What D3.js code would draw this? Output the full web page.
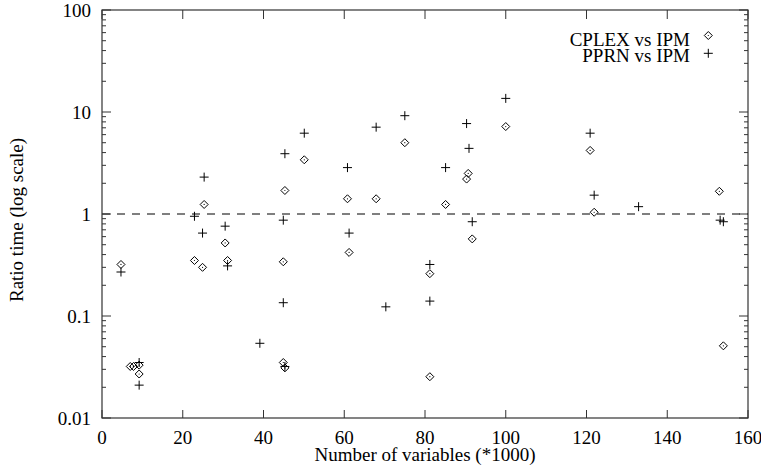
<!DOCTYPE html>
<html><head><meta charset="utf-8">
<script src="https://cdn.jsdelivr.net/npm/d3@7"></script>
<style>
html,body{margin:0;padding:0;background:#fff;}
text{font-family:"Liberation Serif","Times New Roman",serif;font-size:19px;fill:#000;}
</style></head>
<body>
<svg id="c" width="761" height="469"></svg>
<script>
const xTicks = [0,20,40,60,80,100,120,140,160];
const yTicks = [0.01,0.1,1,10,100];
const yTickLabels = ["0.01","0.1","1","10","100"];
const seriesNames = ["CPLEX vs IPM","PPRN vs IPM"];

const cplexX = [4.7,7.0,7.8,9.2,9.2,22.9,24.9,25.3,30.5,31.1,44.9,44.9,45.3,45.3,50.1,60.8,61.2,67.9,75.0,81.2,81.2,85.1,90.3,90.7,91.7,100.0,120.9,121.9,152.9,153.9];
const cplexY = [0.32,0.032,0.032,0.033,0.027,0.35,0.30,1.24,0.52,0.35,0.34,0.035,0.031,1.7,3.4,1.41,0.42,1.41,5.0,0.26,0.0254,1.24,2.2,2.5,0.57,7.2,4.2,1.04,1.67,0.051];

const pprnX = [4.7,9.2,9.2,22.9,24.9,25.3,30.5,31.1,39.1,44.9,44.9,45.3,45.3,50.1,60.8,61.2,67.9,70.3,75.0,81.2,81.2,85.1,90.3,90.9,91.7,100.0,120.9,121.9,132.9,153.1,153.9];
const pprnY = [0.27,0.035,0.021,0.95,0.65,2.3,0.76,0.31,0.054,0.87,0.135,3.9,0.032,6.2,2.85,0.65,7.1,0.123,9.2,0.32,0.14,2.85,7.7,4.4,0.84,13.6,6.2,1.53,1.18,0.87,0.84];

const refLine = 1;

const svg = d3.select("#c");
const L=102, R=748, T=10, B=418;
const x = d3.scaleLinear().domain([0,160]).range([L,R]);
const y = d3.scaleLog().domain([0.01,100]).range([B,T]);

const frameCol = "#333";

// reference dashed line
svg.append("line").attr("x1",L).attr("x2",R).attr("y1",y(refLine)).attr("y2",y(refLine))
  .attr("stroke","#555").attr("stroke-width",1.5).attr("stroke-dasharray","8,7");

// minor y ticks
const minor = [];
for (let e=-2;e<2;e++) for (let k=2;k<=9;k++) minor.push(k*Math.pow(10,e));
const g = svg.append("g");
minor.forEach(v=>{
  g.append("line").attr("x1",L).attr("x2",L+4).attr("y1",y(v)).attr("y2",y(v)).attr("stroke",frameCol);
  g.append("line").attr("x1",R).attr("x2",R-4).attr("y1",y(v)).attr("y2",y(v)).attr("stroke",frameCol);
});
yTicks.forEach((v,i)=>{
  g.append("line").attr("x1",L).attr("x2",L+9).attr("y1",y(v)).attr("y2",y(v)).attr("stroke",frameCol);
  g.append("line").attr("x1",R).attr("x2",R-9).attr("y1",y(v)).attr("y2",y(v)).attr("stroke",frameCol);
  g.append("text").attr("x",L-11).attr("y",y(v)+7).attr("text-anchor","end").text(yTickLabels[i]);
});
xTicks.forEach(v=>{
  g.append("line").attr("x1",x(v)).attr("x2",x(v)).attr("y1",B).attr("y2",B-8).attr("stroke",frameCol);
  g.append("line").attr("x1",x(v)).attr("x2",x(v)).attr("y1",T).attr("y2",T+9).attr("stroke",frameCol);
  g.append("text").attr("x",x(v)).attr("y",444).attr("text-anchor","middle").text(v);
});

// frame
svg.append("rect").attr("x",L).attr("y",T).attr("width",R-L).attr("height",B-T)
  .attr("fill","none").attr("stroke",frameCol).attr("stroke-width",1.2);

// axis titles
svg.append("text").attr("x",(L+R)/2).attr("y",460.5).attr("text-anchor","middle").text("Number of variables (*1000)");
svg.append("text").attr("transform","translate(23,220) rotate(-90)").attr("text-anchor","middle").text("Ratio time (log scale)");

function diamond(sel, cx, cy){
  const s=4;
  sel.append("path").attr("d",`M${cx},${cy-s}L${cx+s},${cy}L${cx},${cy+s}L${cx-s},${cy}Z`)
    .attr("fill","none").attr("stroke","#000").attr("stroke-width",1);
  sel.append("circle").attr("cx",cx).attr("cy",cy).attr("r",0.6).attr("fill","#000");
}
function plus(sel, cx, cy){
  const s=4.5;
  sel.append("path").attr("d",`M${cx-s},${cy}H${cx+s}M${cx},${cy-s}V${cy+s}`)
    .attr("stroke","#000").attr("stroke-width",1);
}

const pts = svg.append("g");
cplexX.forEach((v,i)=>diamond(pts, x(v), y(cplexY[i])));
pprnX.forEach((v,i)=>plus(pts, x(v), y(pprnY[i])));

// legend
svg.append("text").attr("x",690).attr("y",45.5).attr("text-anchor","end").text(seriesNames[0]);
svg.append("text").attr("x",690).attr("y",61.5).attr("text-anchor","end").text(seriesNames[1]);
diamond(svg, 708.3, 35.5);
plus(svg, 708.3, 53.3);
</script>
</body></html>
